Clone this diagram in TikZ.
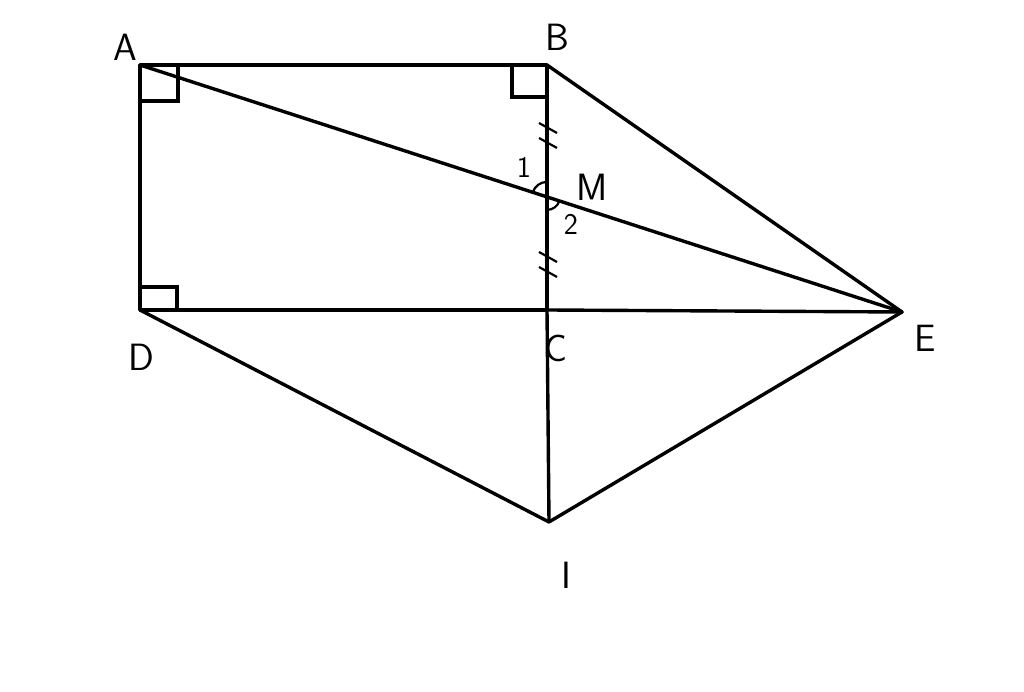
\documentclass[tikz,border=0pt]{standalone}
\usetikzlibrary{calc}
\begin{document}
\begin{tikzpicture}[x=1pt,y=1pt,line width=3.4pt,
  seg/.style={line cap=round,line join=round},
  tick/.style={line width=2.2pt},
  lbl/.style={font=\sffamily\fontsize{38}{38}\selectfont},
  small/.style={font=\sffamily\fontsize{30}{30}\selectfont},
  angmark/.style={line width=2.2pt}]
\useasboundingbox (0,0) rectangle (1024,692);
\fill[white] (0,0) rectangle (1024,692);
\coordinate (A) at (140,627);
\coordinate (B) at (547,627);
\coordinate (D) at (140,382);
\coordinate (C) at (547,382);
\coordinate (E) at (902,380);
\coordinate (I) at (549,170);
\coordinate (M) at (intersection of A--E and B--C);
% main lines
\draw[seg] (A) -- (B) -- (C) -- (D) -- cycle;
\draw[seg] (A) -- (E);
\draw[seg] (B) -- (E);
\draw[seg] (C) -- (E);
\draw[seg] (D) -- (I) -- (E);
\draw[seg] (C) -- (I);
% right angle marks
\draw ($(A)+(0,-36)$) -- ++(38,0) -- ++(0,36);
\draw ($(B)+(-35,0)$) -- ++(0,-32) -- ++(35,0);
\draw ($(D)+(0,23)$) -- ++(37,0) -- ++(0,-23);
% ticks
\draw[tick] ($(B)+(-8,-58)$) -- ++(18,-10);
\draw[tick] ($(B)+(-8,-73)$) -- ++(18,-10);
\draw[tick] ($(C)+(-8,58)$) -- ++(18,-10);
\draw[tick] ($(C)+(-8,43)$) -- ++(18,-10);
% angle marks
\draw[angmark] ($(M)+(162:15)$) arc (162:90:15);
\draw[angmark] ($(M)+(270:13)$) arc (270:342:13);
% labels
\node[lbl] (lA) at (125,645) {A};
\node[lbl] (lB) at (557,655) {B};
\node[lbl] (lD) at (141,335) {D};
\node[lbl] (lC) at (556,344) {C};
\node[lbl] (lE) at (925,354) {E};
\node[lbl] (lI) at (566,117) {I};
\node[lbl] (lM) at (592,505) {M};
\node[small] (l1) at (524,525) {1};
\node[small] (l2) at (571,468) {2};
\end{tikzpicture}
\end{document}
